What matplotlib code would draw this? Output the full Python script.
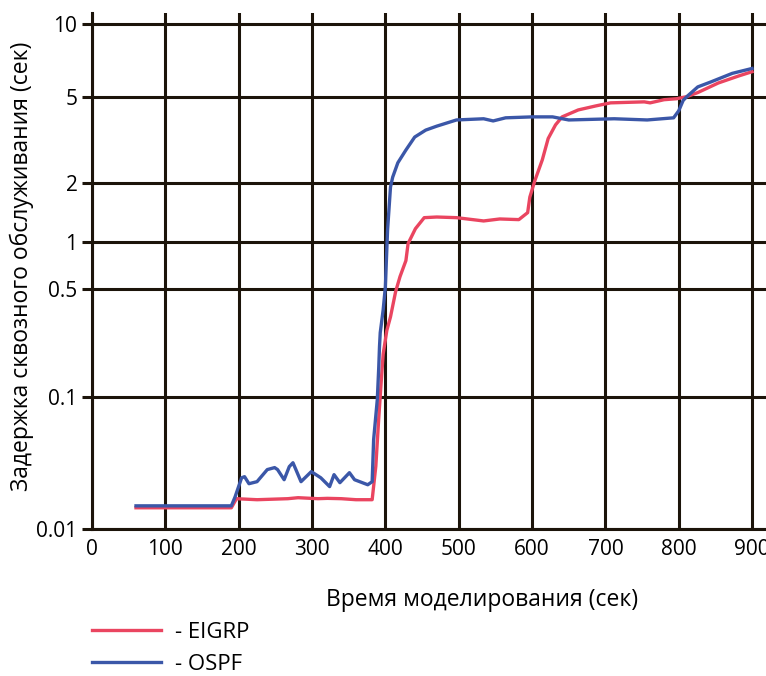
import matplotlib
matplotlib.use("Agg")
import matplotlib.pyplot as plt
import numpy as np
from matplotlib.ticker import FixedLocator, FixedFormatter

plt.rcParams["font.family"] = ["Open Sans", "DejaVu Sans"]

# EIGRP
time_eigrp = [60, 190, 197, 225, 267, 281, 308, 321, 340, 360, 382, 387, 391, 394,
              397, 402, 407, 414, 420, 428, 431, 441, 453, 470, 497, 534, 556, 582,
              594, 597, 604, 614, 622, 632, 641, 663, 687, 707, 753, 761, 780, 797,
              811, 826, 854, 882, 900]
delay_eigrp = [0.0145, 0.0145, 0.0170, 0.0167, 0.0170, 0.0173, 0.0170, 0.0171, 0.0170,
               0.0167, 0.0167, 0.030, 0.07, 0.12, 0.19, 0.27, 0.33, 0.48, 0.60, 0.76,
               0.98, 1.17, 1.33, 1.34, 1.33, 1.28, 1.31, 1.30, 1.41, 1.69, 2.05, 2.55,
               3.20, 3.70, 4.03, 4.34, 4.53, 4.68, 4.73, 4.68, 4.84, 4.89, 5.00, 5.20,
               5.70, 6.10, 6.35]

# OSPF
time_ospf = [60, 190, 195, 204, 208, 214, 225, 239, 249, 253, 262, 269, 274, 278, 285,
             299, 312, 324, 330, 338, 351, 358, 376, 382, 384, 389, 391, 392, 393, 397,
             400, 403, 407, 410, 417, 428, 440, 455, 470, 497, 534, 547, 564, 600, 628,
             650, 712, 757, 793, 800, 806, 811, 826, 844, 873, 900]
delay_ospf = [0.0150, 0.0150, 0.0175, 0.0245, 0.0250, 0.0221, 0.0229, 0.0283, 0.0293,
              0.0283, 0.0237, 0.0298, 0.0319, 0.0283, 0.0229, 0.0273, 0.0245, 0.0210,
              0.0259, 0.0225, 0.0268, 0.0237, 0.0217, 0.0229, 0.0478, 0.0964, 0.157,
              0.212, 0.261, 0.366, 0.515, 1.15, 1.90, 2.12, 2.47, 2.83, 3.25, 3.50, 3.65,
              3.90, 3.95, 3.86, 3.99, 4.03, 4.03, 3.90, 3.95, 3.90, 3.99, 4.30, 4.80,
              5.00, 5.49, 5.76, 6.25, 6.55]

y_ticks = [0.01, 0.1, 0.5, 1, 2, 5, 10]
y_tick_labels = ["0.01", "0.1", "0.5", "1", "2", "5", "10"]
x_ticks = list(range(0, 901, 100))

# the original y axis is log-like but not evenly spaced; piecewise log scale
SCALE_LOG = [-3, -2, -1, np.log10(0.5), 0, np.log10(2), np.log10(5), 1, np.log10(20)]
SCALE_POS = [-131.6, 0, 131.6, 240.3, 287, 346.6, 432.6, 505, 577.4]


def fwd(y):
    y = np.clip(np.asarray(y, dtype=float), 1e-4, None)
    return np.interp(np.log10(y), SCALE_LOG, SCALE_POS)


def inv(p):
    return 10 ** np.interp(np.asarray(p, dtype=float), SCALE_POS, SCALE_LOG)


GRID = "#1c140a"
RED = "#ea4560"
BLUE = "#3b57a8"

fig = plt.figure(figsize=(7.66, 6.76), dpi=100)
ax = fig.add_axes([92 / 766, 147 / 676, 674 / 766, 516 / 676])

ax.plot(time_eigrp, delay_eigrp, color=RED, lw=2.4, label="- EIGRP", zorder=3)
ax.plot(time_ospf, delay_ospf, color=BLUE, lw=2.4, label="- OSPF", zorder=4)

ax.set_yscale("function", functions=(fwd, inv))
ax.set_ylim(0.01, float(inv(516.3)))
ax.set_xlim(0, 919)

ax.yaxis.set_major_locator(FixedLocator(y_ticks))
ax.yaxis.set_major_formatter(FixedFormatter(y_tick_labels))
ax.yaxis.set_minor_locator(FixedLocator([]))
ax.set_xticks(x_ticks)
ax.set_xticklabels([str(x) for x in x_ticks])

ax.grid(True, color=GRID, lw=2.2)
ax.set_axisbelow(True)
for side in ["top", "right"]:
    ax.spines[side].set_visible(False)
for side in ["left", "bottom"]:
    ax.spines[side].set_color(GRID)
    ax.spines[side].set_linewidth(2.2)

ax.tick_params(axis="y", length=7.5, width=2.2, color=GRID, pad=3, labelsize=15)
ax.tick_params(axis="x", length=0, pad=7, labelsize=15)

fig.text(22 / 766, 1 - 266 / 676, "Задержка сквозного обслуживания (сек)",
         rotation=90, ha="center", va="center", fontsize=16.5)
fig.text(482 / 766, 1 - 600 / 676, "Время моделирования (сек)",
         ha="center", va="center", fontsize=16.5)

fig.legend(loc="upper left", bbox_to_anchor=(92 / 766, 1 - 622 / 676), frameon=False,
           fontsize=16, handlelength=3.1, handletextpad=0.65, labelspacing=0.5,
           borderpad=0, borderaxespad=0)

fig.savefig("out.png", dpi=100)
